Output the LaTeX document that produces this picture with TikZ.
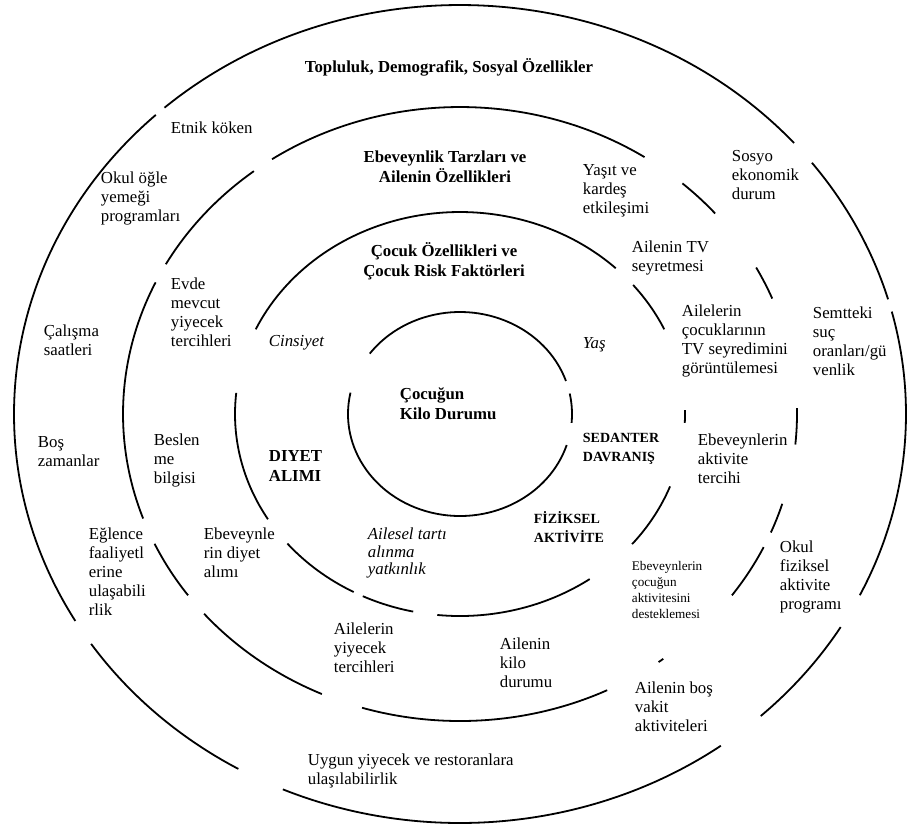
\documentclass[tikz,border=0pt]{standalone}
\usepackage{fontspec}
\setmainfont{Liberation Serif}
\begin{document}
\begin{tikzpicture}[x=0.5pt,y=-0.5pt,line width=0.9pt]
	% ring radii (x and y)
	\def \rxa{446} \def \rya{409}
	\def \rxb{337} \def \ryb{307}
	\def \rxc{225} \def \ryc{202}
	\def \rxd{112} \def \ryd{102}
	\tikzstyle{txt}=[inner sep=0pt,anchor=west,align=left,font=\fontsize{8.4}{9.5}\selectfont]
	\tikzstyle{itxt}=[txt,font=\fontsize{8.4}{8.6}\selectfont\itshape]
	\tikzstyle{boldhead}=[inner sep=0pt,align=center,font=\fontsize{8.4}{10}\selectfont\bfseries]
	\tikzstyle{capsbox}=[inner sep=0pt,anchor=west,align=left,font=\fontsize{7}{9.3}\selectfont\bfseries]
	\tikzstyle{tinytxt}=[inner sep=0pt,anchor=west,align=left,font=\fontsize{6.6}{8}\selectfont]
	\useasboundingbox (0,0) rectangle (908,827);
	\coordinate (ctr) at (460,414);

	% rings, broken into arcs (angles as seen, counter-clockwise)
	\foreach \a/\b in {41.5/131.5, 133/210.4, 214.2/240.2, 246.6/305.8, 312.4/328.6, 333.7/374.5, 376.3/397.9}
		\draw ([shift={({\rxa*cos(\a)},{-\rya*sin(\a)})}]ctr) arc[start angle=-\a, end angle=-\b, x radius=\rxa, y radius=\rya];
	\foreach \a/\b in {56.8/123.9, 127.7/150.8, 154.6/199.9, 205/216.2, 220.6/245.8, 253.1/295.9, 306.1/307.1, 323.8/334.3, 337.3/343, 354.3/361.1, 22.1/28.5, 40.8/48.7}
		\draw ([shift={({\rxb*cos(\a)},{-\ryb*sin(\a)})}]ctr) arc[start angle=-\a, end angle=-\b, x radius=\rxb, y radius=\ryb];
	\foreach \a/\b in {46.2/155.2, 174/211.4, 219.9/241.8, 244.4/258, 264.2/305.2, 319.9/339, 357.5/361.1, 24.8/39.7}
		\draw ([shift={({\rxc*cos(\a)},{-\ryc*sin(\a)})}]ctr) arc[start angle=-\a, end angle=-\b, x radius=\rxc, y radius=\ryc];
	\foreach \a/\b in {18.9/143.7, 167.9/342.3, 355/371.6}
		\draw ([shift={({\rxd*cos(\a)},{-\ryd*sin(\a)})}]ctr) arc[start angle=-\a, end angle=-\b, x radius=\rxd, y radius=\ryd];

	% headings
	\node[boldhead] (community-head) at (449,67) {Topluluk, Demografik, Sosyal Özellikler};
	\node[boldhead] (parent-head) at (445,167) {Ebeveynlik Tarzları ve\\Ailenin Özellikleri};
	\node[boldhead] (child-head) at (444,261) {Çocuk Özellikleri ve\\Çocuk Risk Faktörleri};
	\node[boldhead,anchor=west,align=left] (weight-head) at (399,404) {Çocuğun\\ Kilo Durumu};

	% outer ring
	\node[txt] (etnik) at (170,128) {Etnik köken};
	\node[txt] (okul-ogle) at (100,198) {Okul öğle\\yemeği\\programları};
	\node[txt] (sosyo) at (731,175) {Sosyo\\ekonomik\\durum};
	\node[txt] (calisma) at (43,340) {Çalışma\\saatleri};
	\node[txt] (semt) at (812,341) {Semtteki\\suç\\oranları/gü\\venlik};
	\node[txt] (bos-zaman) at (37,452) {Boş\\zamanlar};
	\node[txt] (eglence) at (88,572) {Eğlence\\faaliyetl\\erine\\ulaşabili\\rlik};
	\node[txt] (okul-fizik) at (779,577) {Okul\\fiziksel\\aktivite\\programı};
	\node[txt] (uygun) at (307,771) {Uygun yiyecek ve restoranlara\\ulaşılabilirlik};

	% middle ring
	\node[txt] (yasit) at (582,191) {Yaşıt ve\\kardeş\\etkileşimi};
	\node[txt] (aile-tv) at (631,258) {Ailenin TV\\seyretmesi};
	\node[txt] (evde) at (170,312) {Evde\\mevcut\\yiyecek\\tercihleri};
	\node[txt] (tv-izleme) at (681,341) {Ailelerin\\çocuklarının\\TV seyredimini\\görüntülemesi};
	\node[txt] (beslenme) at (153,460) {Beslen\\me\\bilgisi};
	\node[txt] (akt-tercih) at (697,459) {Ebeveynlerin\\aktivite\\tercihi};
	\node[txt] (ebeveyn-diyet) at (203,553) {Ebeveynle\\rin diyet\\alımı};
	\node[tinytxt] (destek) at (631,590) {Ebeveynlerin\\çocuğun\\aktivitesini\\desteklemesi};
	\node[txt] (aile-yiyecek) at (333,648) {Ailelerin\\yiyecek\\tercihleri};
	\node[txt] (aile-kilo) at (499,663) {Ailenin\\kilo\\durumu};
	\node[txt] (aile-bos) at (634,707) {Ailenin boş\\vakit\\aktiviteleri};

	% inner ring
	\node[itxt] (cinsiyet) at (268,343) {Cinsiyet};
	\node[itxt] (yas) at (582,345) {Yaş};
	\node[boldhead,anchor=west,align=left] (diyet) at (268,466) {DIYET\\ALIMI};
	\node[capsbox] (sedanter) at (582,449) {SEDANTER\\DAVRANIŞ};
	\node[capsbox] (fiziksel) at (533,527) {FİZİKSEL\\AKTİVİTE};
	\node[itxt] (ailesel) at (367,553) {Ailesel tartı\\alınma\\yatkınlık};
\end{tikzpicture}
\end{document}
